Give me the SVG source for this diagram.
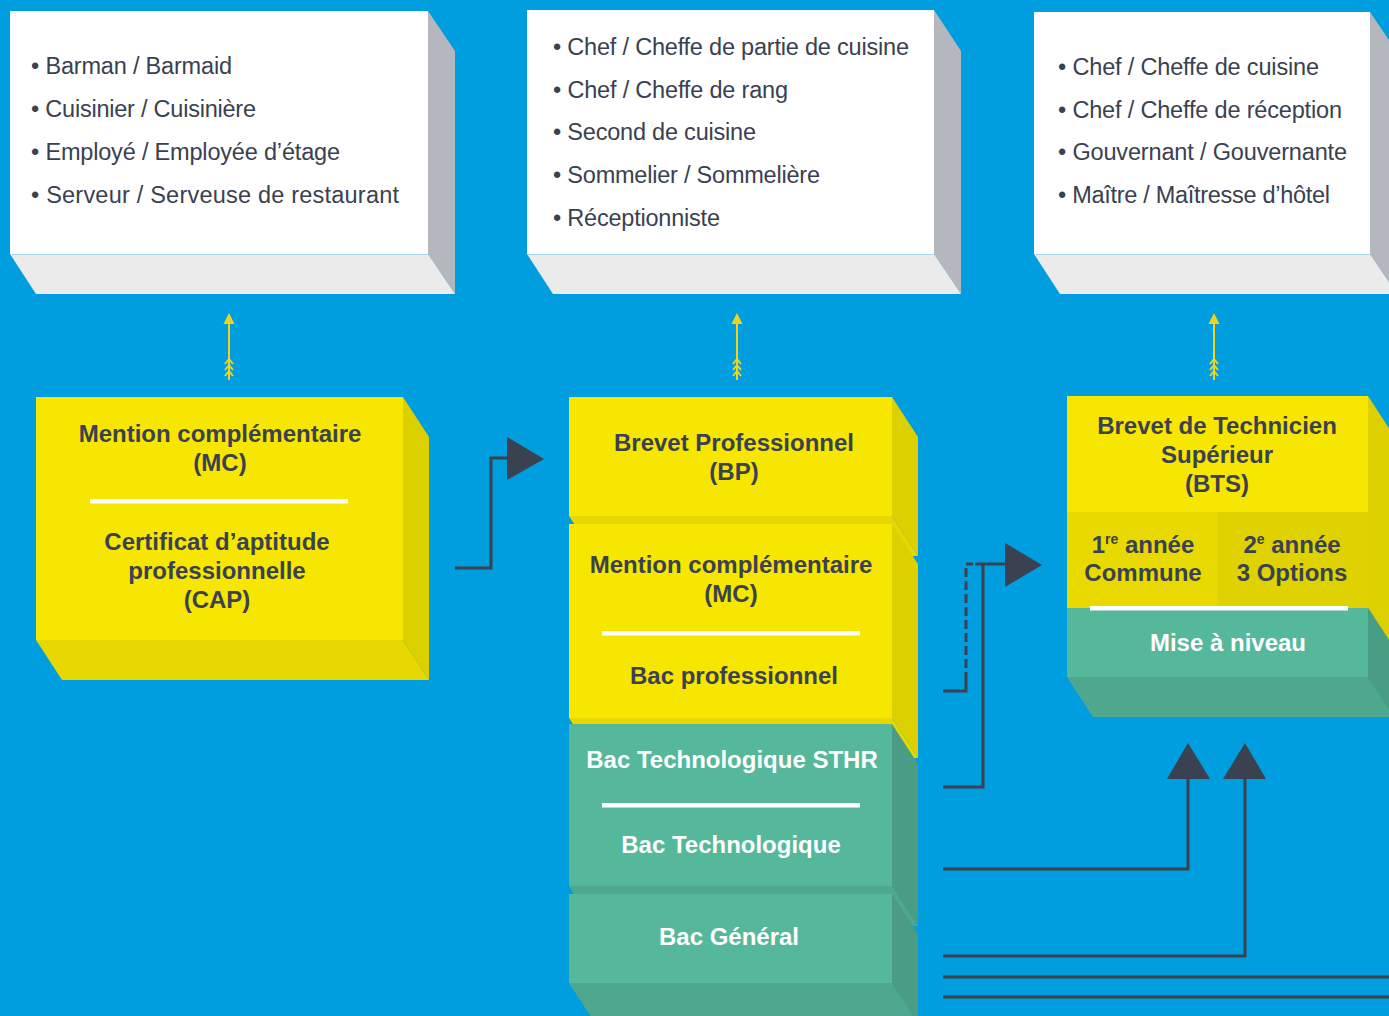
<svg xmlns="http://www.w3.org/2000/svg" width="1389" height="1016" viewBox="0 0 1389 1016">
<defs>
<style>
.bg{fill:#009EDF}
.wf{fill:#FFFFFF}
.ws{fill:#B5B7BF}
.wb{fill:#EBEBEB}
.we{stroke:#A9D6EA;stroke-width:1;fill:none}
.yf{fill:#F7E600}
.ys{fill:#DDD000}
.yb{fill:#E6D800}
.yc1{fill:#E8DA00}
.yc2{fill:#DFD200}
.gf{fill:#55B89A}
.gs{fill:#4A9C84}
.gb{fill:#4FA88D}
.sep{fill:#FFFFFF}
.li{font-family:"Liberation Sans",Arial,sans-serif;font-size:23.5px;fill:#3A4150}
.bd{font-family:"Liberation Sans",Arial,sans-serif;font-size:24px;font-weight:bold;fill:#3A4150;text-anchor:middle}
.bw{font-family:"Liberation Sans",Arial,sans-serif;font-size:24px;font-weight:bold;fill:#FFFFFF;text-anchor:middle}
.con{fill:none;stroke:#3A4150;stroke-width:3}
.dash{stroke-dasharray:9 4}
.head{fill:#3A4150}
.ya{stroke:#F2D21C;stroke-width:2;fill:none}
.yh{fill:#F2D21C}
</style>
</defs>
<rect class="bg" x="0" y="0" width="1389" height="1016"/>

<g id="jobs-cap">
<rect class="wf" x="10" y="11" width="418" height="243"/>
<polygon class="ws" points="428,11 455,51 455,294 428,254"/>
<polygon class="wb" points="10,254 428,254 455,294 36,294"/>
<line class="we" x1="10" y1="254.5" x2="428" y2="254.5"/>
<text class="li" x="31" y="74" textLength="201">• Barman / Barmaid</text>
<text class="li" x="31" y="117" textLength="225">• Cuisinier / Cuisinière</text>
<text class="li" x="31" y="160" textLength="309">• Employé / Employée d’étage</text>
<text class="li" x="31" y="203" textLength="368">• Serveur / Serveuse de restaurant</text>
</g>

<g id="jobs-bp">
<rect class="wf" x="527" y="10" width="407" height="244"/>
<polygon class="ws" points="934,10 961,51 961,294 934,254"/>
<polygon class="wb" points="527,254 934,254 961,294 553,294"/>
<line class="we" x1="527" y1="254.5" x2="934" y2="254.5"/>
<text class="li" x="553" y="55" textLength="356">• Chef / Cheffe de partie de cuisine</text>
<text class="li" x="553" y="98" textLength="235">• Chef / Cheffe de rang</text>
<text class="li" x="553" y="140" textLength="203">• Second de cuisine</text>
<text class="li" x="553" y="183" textLength="267">• Sommelier / Sommelière</text>
<text class="li" x="553" y="226" textLength="167">• Réceptionniste</text>
</g>

<g id="jobs-bts">
<rect class="wf" x="1034" y="12" width="336" height="242"/>
<polygon class="ws" points="1370,12 1397,52 1397,294 1370,254"/>
<polygon class="wb" points="1034,254 1370,254 1397,294 1060,294"/>
<line class="we" x1="1034" y1="254.5" x2="1370" y2="254.5"/>
<text class="li" x="1058" y="75" textLength="261">• Chef / Cheffe de cuisine</text>
<text class="li" x="1058" y="118" textLength="284">• Chef / Cheffe de réception</text>
<text class="li" x="1058" y="160" textLength="289">• Gouvernant / Gouvernante</text>
<text class="li" x="1058" y="203" textLength="272">• Maître / Maîtresse d’hôtel</text>
</g>

<g id="mc-cap">
<rect class="yf" x="36" y="397" width="367" height="243"/>
<polygon class="ys" points="403,397 429,437 429,680 403,640"/>
<polygon class="yb" points="36,640 403,640 429,680 62,680"/>
<text class="bd" x="220" y="442">Mention complémentaire</text>
<text class="bd" x="220" y="471">(MC)</text>
<rect class="sep" x="90" y="499" width="258" height="4.5"/>
<text class="bd" x="217" y="550">Certificat d’aptitude</text>
<text class="bd" x="217" y="579">professionnelle</text>
<text class="bd" x="217" y="608">(CAP)</text>
</g>

<g id="bp">
<rect class="yf" x="569" y="397" width="323" height="119"/>
<polygon class="ys" points="892,397 918,437 918,556 892,516"/>
<polygon class="yb" points="569,516 892,516 918,556 595,556"/>
<text class="bd" x="734" y="451">Brevet Professionnel</text>
<text class="bd" x="734" y="480">(BP)</text>
</g>

<g id="mc-bacpro">
<rect class="yf" x="569" y="524" width="323" height="194"/>
<polygon class="ys" points="892,524 918,564 918,758 892,718"/>
<polygon class="yb" points="569,718 892,718 918,758 595,758"/>
<text class="bd" x="731" y="573">Mention complémentaire</text>
<text class="bd" x="731" y="602">(MC)</text>
<rect class="sep" x="602" y="631" width="258" height="4.5"/>
<text class="bd" x="734" y="684">Bac professionnel</text>
</g>

<g id="bac-techno">
<rect class="gf" x="569" y="724" width="323" height="162"/>
<polygon class="gs" points="892,724 918,764 918,926 892,886"/>
<polygon class="gb" points="569,886 892,886 918,926 595,926"/>
<text class="bw" x="732" y="768">Bac Technologique STHR</text>
<rect class="sep" x="602" y="803" width="258" height="4.5"/>
<text class="bw" x="731" y="853">Bac Technologique</text>
</g>

<g id="bac-general">
<rect class="gf" x="569" y="894" width="323" height="89"/>
<polygon class="gs" points="892,894 918,934 918,1023 892,983"/>
<polygon class="gb" points="569,983 892,983 918,1023 595,1023"/>
<text class="bw" x="729" y="945">Bac Général</text>
</g>

<g id="bts">
<rect class="yf" x="1067" y="396" width="301" height="116"/>
<polygon class="ys" points="1368,396 1394,436 1394,648 1368,608"/>
<rect class="yc1" x="1067" y="512" width="151" height="96"/>
<rect class="yc2" x="1218" y="512" width="150" height="96"/>
<text class="bd" x="1217" y="434">Brevet de Technicien</text>
<text class="bd" x="1217" y="463">Supérieur</text>
<text class="bd" x="1217" y="492">(BTS)</text>
<text class="bd" x="1143" y="553">1<tspan font-size="14" dy="-9">re</tspan><tspan dy="9"> année</tspan></text>
<text class="bd" x="1143" y="581">Commune</text>
<text class="bd" x="1292" y="553">2<tspan font-size="14" dy="-9">e</tspan><tspan dy="9"> année</tspan></text>
<text class="bd" x="1292" y="581">3 Options</text>
</g>

<g id="mise-a-niveau">
<rect class="gf" x="1067" y="608" width="301" height="69"/>
<polygon class="gs" points="1368,608 1394,648 1394,717 1368,677"/>
<polygon class="gb" points="1067,677 1368,677 1394,717 1093,717"/>
<rect class="sep" x="1090" y="606" width="258" height="4.5"/>
<text class="bw" x="1228" y="651">Mise à niveau</text>
</g>

<g id="connectors">
<g id="job-arrows">
<line class="ya" x1="229" y1="322" x2="229" y2="380"/>
<polygon class="yh" points="229,313 223.5,324 234.5,324"/>
<polyline class="ya" points="225,364 229,359 233,364"/>
<polyline class="ya" points="225,370 229,365 233,370"/>
<polyline class="ya" points="225,376 229,371 233,376"/>
<line class="ya" x1="737" y1="322" x2="737" y2="380"/>
<polygon class="yh" points="737,313 731.5,324 742.5,324"/>
<polyline class="ya" points="733,364 737,359 741,364"/>
<polyline class="ya" points="733,370 737,365 741,370"/>
<polyline class="ya" points="733,376 737,371 741,376"/>
<line class="ya" x1="1214" y1="322" x2="1214" y2="380"/>
<polygon class="yh" points="1214,313 1208.5,324 1219.5,324"/>
<polyline class="ya" points="1210,364 1214,359 1218,364"/>
<polyline class="ya" points="1210,370 1214,365 1218,370"/>
<polyline class="ya" points="1210,376 1214,371 1218,376"/>
</g>
<path class="con" d="M455,568 H491 V458 H508"/>
<polygon class="head" points="507,437 544,459 507,480"/>
<path class="con" d="M943,691 H966 V681"/>
<path class="con dash" d="M966,681 V564 H973"/>
<path class="con" d="M943,787 H983 V564"/>
<path class="con" d="M975,564 H1006"/>
<polygon class="head" points="1005,543 1042,565 1005,587"/>
<path class="con" d="M943,869 H1188 V778"/>
<polygon class="head" points="1167,779 1210,779 1188,743"/>
<path class="con" d="M943,956 H1245 V778"/>
<polygon class="head" points="1223,779 1266,779 1245,743"/>
<path class="con" d="M943,977 H1389"/>
<path class="con" d="M943,997 H1389"/>
</g>
</svg>
